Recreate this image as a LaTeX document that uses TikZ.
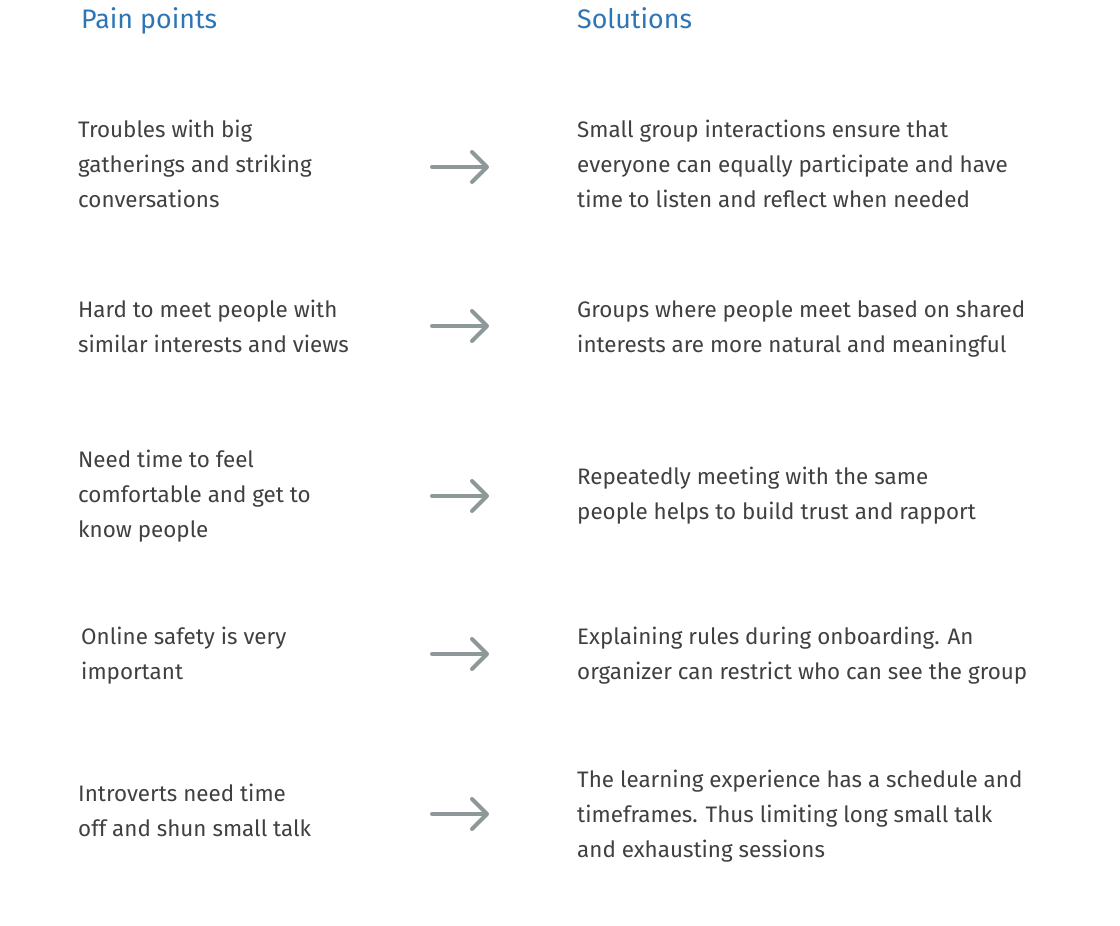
\documentclass[tikz,border=0pt]{standalone}
\usepackage{fontspec}
\setmainfont{Fira Sans}
\usepackage{xcolor}
\usetikzlibrary{arrows.meta, positioning}

\definecolor{headblue}{HTML}{2E75B6}
\definecolor{bodytext}{HTML}{404040}
\definecolor{arrowgray}{HTML}{8F9898}

\begin{document}
\begin{tikzpicture}[
    x=1pt, y=-1pt,
    every node/.style={inner sep=0pt, align=left},
    heading/.style={anchor=base west, text=headblue, font=\fontsize{26.8}{30}\selectfont},
    pain/.style={anchor=west, text=bodytext, font=\fontsize{22.4}{35}\selectfont},
    fix/.style={anchor=west, text=bodytext, font=\fontsize{22.4}{35}\selectfont},
    goes/.style={draw=arrowgray, line width=4pt, line cap=round,
        -{Straight Barb[length=15pt, width=30pt, round]}}
]
\useasboundingbox (0,0) rectangle (1120,926);

% headings
\node[heading] (painhead) at (81,28) {Pain points};
\node[heading] (fixhead) at (577,28) {Solutions};

% pain points
\node[pain] (pain1) at (78,164) {Troubles with big\\gatherings and striking\\conversations};
\node[pain] (pain2) at (78,326) {Hard to meet people with\\similar interests and views};
\node[pain] (pain3) at (78,496) {Need time to feel\\comfortable and get to\\know people};
\node[pain] (pain4) at (81,656) {Online safety is very\\important};
\node[pain] (pain5) at (78,810) {Introverts need time\\off and shun small talk};

% solutions
\node[fix] (fix1) at (577,164) {Small group interactions ensure that\\everyone can equally participate and have\\time to listen and reflect when needed};
\node[fix] (fix2) at (577,329) {Groups where people meet based on shared\\interests are more natural and meaningful};
\node[fix] (fix3) at (577,496) {Repeatedly meeting with the same\\people helps to build trust and rapport};
\node[fix] (fix4) at (577,656) {Explaining rules during onboarding. An\\organizer can restrict who can see the group};
\node[fix] (fix5) at (577,816) {The learning experience has a schedule and\\timeframes. Thus limiting long small talk\\and exhausting sessions};

% arrows
\foreach \i/\y in {1/167, 2/326, 3/496, 4/654, 5/814} {
    \coordinate (from\i) at (432,\y);
    \coordinate (to\i) at (489,\y);
    \draw[goes] (from\i) -- (to\i);
}
\end{tikzpicture}
\end{document}
